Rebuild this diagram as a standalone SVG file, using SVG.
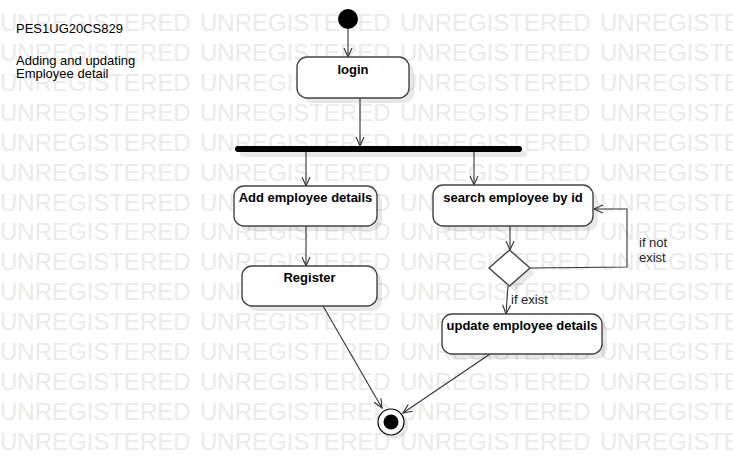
<svg xmlns="http://www.w3.org/2000/svg" width="733" height="475" viewBox="0 0 733 475">
<style>
.wm{font-family:"Liberation Sans",Arial,sans-serif;font-size:24px;fill:#ebebeb}
.note{font-family:"Liberation Sans",Arial,sans-serif;font-size:13px;fill:#000}
.lbl{font-family:"Liberation Sans",Arial,sans-serif;font-size:13px;font-weight:bold;fill:#000;text-anchor:middle}
.guard{font-family:"Liberation Sans",Arial,sans-serif;font-size:13px;fill:#222}
.box{fill:#fff;stroke:#444;stroke-width:1.4}
.shadow{fill:#000;fill-opacity:0.09}
.edge{fill:none;stroke:#333;stroke-width:1.1}
</style>
<defs>
<marker id="arr" markerUnits="userSpaceOnUse" markerWidth="12" markerHeight="12" viewBox="0 0 12 12" refX="10" refY="5" orient="auto">
<path d="M1,1 L10,5 L1,9" fill="none" stroke="#333" stroke-width="1.1"/>
</marker>
</defs>
<rect width="733" height="475" fill="#fff"/>
<g id="watermark">
<text class="wm" x="0" y="31">UNREGISTERED</text><text class="wm" x="200" y="31">UNREGISTERED</text><text class="wm" x="400" y="31">UNREGISTERED</text><text class="wm" x="600" y="31">UNREGISTERED</text>
<text class="wm" x="0" y="61">UNREGISTERED</text><text class="wm" x="200" y="61">UNREGISTERED</text><text class="wm" x="400" y="61">UNREGISTERED</text><text class="wm" x="600" y="61">UNREGISTERED</text>
<text class="wm" x="0" y="91">UNREGISTERED</text><text class="wm" x="200" y="91">UNREGISTERED</text><text class="wm" x="400" y="91">UNREGISTERED</text><text class="wm" x="600" y="91">UNREGISTERED</text>
<text class="wm" x="0" y="121">UNREGISTERED</text><text class="wm" x="200" y="121">UNREGISTERED</text><text class="wm" x="400" y="121">UNREGISTERED</text><text class="wm" x="600" y="121">UNREGISTERED</text>
<text class="wm" x="0" y="151">UNREGISTERED</text><text class="wm" x="200" y="151">UNREGISTERED</text><text class="wm" x="400" y="151">UNREGISTERED</text><text class="wm" x="600" y="151">UNREGISTERED</text>
<text class="wm" x="0" y="181">UNREGISTERED</text><text class="wm" x="200" y="181">UNREGISTERED</text><text class="wm" x="400" y="181">UNREGISTERED</text><text class="wm" x="600" y="181">UNREGISTERED</text>
<text class="wm" x="0" y="211">UNREGISTERED</text><text class="wm" x="200" y="211">UNREGISTERED</text><text class="wm" x="400" y="211">UNREGISTERED</text><text class="wm" x="600" y="211">UNREGISTERED</text>
<text class="wm" x="0" y="240">UNREGISTERED</text><text class="wm" x="200" y="240">UNREGISTERED</text><text class="wm" x="400" y="240">UNREGISTERED</text><text class="wm" x="600" y="240">UNREGISTERED</text>
<text class="wm" x="0" y="270">UNREGISTERED</text><text class="wm" x="200" y="270">UNREGISTERED</text><text class="wm" x="400" y="270">UNREGISTERED</text><text class="wm" x="600" y="270">UNREGISTERED</text>
<text class="wm" x="0" y="300">UNREGISTERED</text><text class="wm" x="200" y="300">UNREGISTERED</text><text class="wm" x="400" y="300">UNREGISTERED</text><text class="wm" x="600" y="300">UNREGISTERED</text>
<text class="wm" x="0" y="330">UNREGISTERED</text><text class="wm" x="200" y="330">UNREGISTERED</text><text class="wm" x="400" y="330">UNREGISTERED</text><text class="wm" x="600" y="330">UNREGISTERED</text>
<text class="wm" x="0" y="360">UNREGISTERED</text><text class="wm" x="200" y="360">UNREGISTERED</text><text class="wm" x="400" y="360">UNREGISTERED</text><text class="wm" x="600" y="360">UNREGISTERED</text>
<text class="wm" x="0" y="390">UNREGISTERED</text><text class="wm" x="200" y="390">UNREGISTERED</text><text class="wm" x="400" y="390">UNREGISTERED</text><text class="wm" x="600" y="390">UNREGISTERED</text>
<text class="wm" x="0" y="420">UNREGISTERED</text><text class="wm" x="200" y="420">UNREGISTERED</text><text class="wm" x="400" y="420">UNREGISTERED</text><text class="wm" x="600" y="420">UNREGISTERED</text>
<text class="wm" x="0" y="450">UNREGISTERED</text><text class="wm" x="200" y="450">UNREGISTERED</text><text class="wm" x="400" y="450">UNREGISTERED</text><text class="wm" x="600" y="450">UNREGISTERED</text>
</g>
<g id="note">
<text class="note" x="16" y="33">PES1UG20CS829</text>
<text class="note" x="16" y="65">Adding and updating</text>
<text class="note" x="16" y="78">Employee detail</text>
</g>
<g id="connectors">
<line class="edge" x1="348" y1="29" x2="348" y2="57" marker-end="url(#arr)"/>
<line class="edge" x1="360" y1="98" x2="360" y2="146" marker-end="url(#arr)"/>
<line class="edge" x1="306" y1="152" x2="306" y2="186" marker-end="url(#arr)"/>
<line class="edge" x1="474" y1="152" x2="474" y2="185" marker-end="url(#arr)"/>
<line class="edge" x1="306" y1="226" x2="306" y2="266" marker-end="url(#arr)"/>
<line class="edge" x1="510" y1="226" x2="510" y2="250" marker-end="url(#arr)"/>
<polyline class="edge" points="530,268 627,267 627,209 594,209" marker-end="url(#arr)"/>
<line class="edge" x1="508" y1="286" x2="506" y2="314" marker-end="url(#arr)"/>
<line class="edge" x1="323" y1="306" x2="382" y2="408" marker-end="url(#arr)"/>
<line class="edge" x1="490" y1="354" x2="403" y2="413" marker-end="url(#arr)"/>
<text class="guard" x="639" y="247">if not</text>
<text class="guard" x="639" y="262">exist</text>
<text class="guard" x="511" y="304">if exist</text>
</g>
<g id="initial">
<circle cx="348" cy="19" r="10" fill="#000"/>
</g>
<g id="login">
<rect class="shadow" x="302" y="62" width="112" height="41" rx="10"/>
<rect class="box" x="297" y="57" width="112" height="41" rx="10"/>
<text class="lbl" x="353" y="74">login</text>
</g>
<g id="fork">
<rect class="shadow" x="240" y="151" width="287" height="6" rx="3"/>
<rect x="235" y="146" width="287" height="6" rx="3" fill="#000"/>
</g>
<g id="add">
<rect class="shadow" x="239" y="191" width="143" height="40" rx="10"/>
<rect class="box" x="234" y="186" width="143" height="40" rx="10"/>
<text class="lbl" x="305.5" y="202">Add employee details</text>
</g>
<g id="register">
<rect class="shadow" x="247" y="271" width="135" height="40" rx="10"/>
<rect class="box" x="242" y="266" width="135" height="40" rx="10"/>
<text class="lbl" x="309.5" y="282">Register</text>
</g>
<g id="search">
<rect class="shadow" x="438" y="190" width="160" height="41" rx="10"/>
<rect class="box" x="433" y="185" width="160" height="41" rx="10"/>
<text class="lbl" x="513" y="202">search employee by id</text>
</g>
<g id="decision">
<polygon class="shadow" points="514.5,255 535,273 514.5,291 494,273"/>
<polygon class="box" points="509.5,250 530,268 509.5,286 489,268"/>
</g>
<g id="update">
<rect class="shadow" x="447" y="319" width="160" height="40" rx="10"/>
<rect class="box" x="442" y="314" width="160" height="40" rx="10"/>
<text class="lbl" x="522" y="330">update employee details</text>
</g>
<g id="final">
<circle class="shadow" cx="395" cy="426" r="13"/>
<circle cx="391" cy="422" r="13" fill="#fff" stroke="#000" stroke-width="1.2"/>
<circle cx="391" cy="422" r="7.5" fill="#000"/>
</g>
</svg>
